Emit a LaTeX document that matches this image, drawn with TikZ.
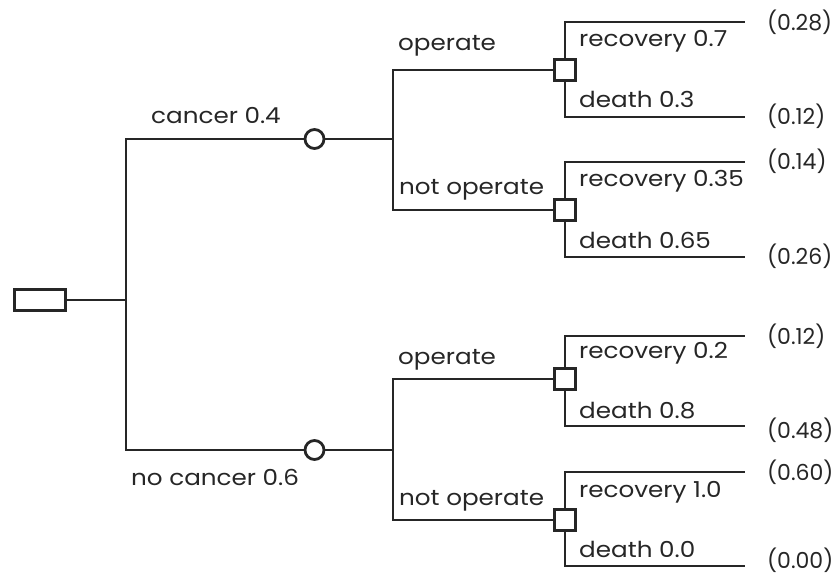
\documentclass[tikz,border=0pt]{standalone}
\usepackage{fontspec}
\setmainfont{Poppins}[FakeStretch=1.12]
\newfontfamily\valfont{Poppins}
\begin{document}
\begin{tikzpicture}[x=1pt,y=-1pt,
  conn/.style={draw=black!85, line width=2.8pt},
  chance/.style={circle, draw=black!85, fill=white, line width=2.8pt, minimum size=19pt, inner sep=0pt},
  decis/.style={rectangle, draw=black!85, fill=white, line width=2.8pt, minimum size=21pt, inner sep=0pt},
  rootbox/.style={rectangle, draw=black!85, fill=white, line width=2.8pt, minimum width=51pt, minimum height=21pt, inner sep=0pt},
  lbl/.style={anchor=base west, inner sep=0pt, text=black!85, font=\fontsize{22}{25}\selectfont},
  val/.style={anchor=base west, inner sep=0pt, text=black!85, font=\valfont\fontsize{22}{25}\selectfont}
]
\useasboundingbox (0,0) rectangle (836,575);
% junctions and leaf ends
\coordinate (j0) at (126,300);
\coordinate (k1) at (393,139);
\coordinate (k2) at (393,450);
\coordinate (l1) at (745,22);
\coordinate (l2) at (745,117);
\coordinate (l3) at (745,162);
\coordinate (l4) at (745,257);
\coordinate (l5) at (745,336);
\coordinate (l6) at (745,426);
\coordinate (l7) at (745,472);
\coordinate (l8) at (745,566);
% nodes
\node[rootbox] (root) at (40,300) {};
\node[chance] (c1) at (314.5,139) {};
\node[chance] (c2) at (314.5,450) {};
\node[decis] (s1) at (565,70) {};
\node[decis] (s2) at (565,210) {};
\node[decis] (s3) at (565,379) {};
\node[decis] (s4) at (565,520) {};
% connectors
\draw[conn] (root) -- (j0);
\draw[conn] (j0) |- (c1);
\draw[conn] (j0) |- (c2);
\draw[conn] (c1) -- (k1);
\draw[conn] (c2) -- (k2);
\draw[conn] (k1) |- (s1);
\draw[conn] (k1) |- (s2);
\draw[conn] (k2) |- (s3);
\draw[conn] (k2) |- (s4);
\draw[conn] (s1) |- (l1);
\draw[conn] (s1) |- (l2);
\draw[conn] (s2) |- (l3);
\draw[conn] (s2) |- (l4);
\draw[conn] (s3) |- (l5);
\draw[conn] (s3) |- (l6);
\draw[conn] (s4) |- (l7);
\draw[conn] (s4) |- (l8);
% labels
\node[lbl] (t1) at (151,124) {cancer 0.4};
\node[lbl] (t2) at (131,485) {no cancer 0.6};
\node[lbl] (t3) at (398,51) {operate};
\node[lbl] (t4) at (399,194) {not operate};
\node[lbl] (t5) at (398,364) {operate};
\node[lbl] (t6) at (399,505) {not operate};
\node[lbl] (r1) at (579,47) {recovery 0.7};
\node[lbl] (d1) at (579,108) {death 0.3};
\node[lbl] (r2) at (579,186) {recovery 0.35};
\node[lbl] (d2) at (579,248) {death 0.65};
\node[lbl] (r3) at (579,358) {recovery 0.2};
\node[lbl] (d3) at (579,418) {death 0.8};
\node[lbl] (r4) at (579,497) {recovery 1.0};
\node[lbl] (d4) at (579,557) {death 0.0};
\node[val] (v1) at (767,31) {(0.28)};
\node[val] (v2) at (767,125) {(0.12)};
\node[val] (v3) at (767,170) {(0.14)};
\node[val] (v4) at (767,265) {(0.26)};
\node[val] (v5) at (767,344) {(0.12)};
\node[val] (v6) at (767,438) {(0.48)};
\node[val] (v7) at (767,480) {(0.60)};
\node[val] (v8) at (767,568) {(0.00)};
\end{tikzpicture}
\end{document}
